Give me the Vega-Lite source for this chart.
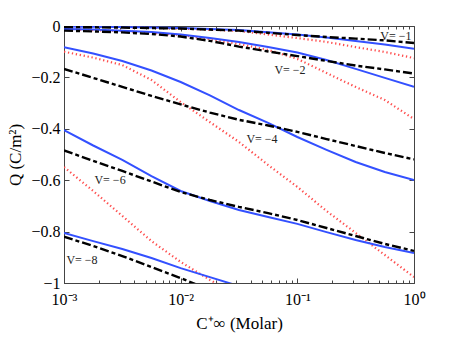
{
  "$schema": "https://vega.github.io/schema/vega-lite/v6.json",
  "autosize": "none",
  "width": 350,
  "height": 257,
  "padding": {"left": 64, "top": 26, "right": 43, "bottom": 60},
  "background": "white",
  "config": {
    "view": {"stroke": "#444", "strokeWidth": 1},
    "font": "Liberation Serif",
    "axis": {"grid": false, "domainColor": "#444", "tickColor": "#444", "labelColor": "#000", "titleColor": "#000", "labelFont": "Liberation Serif", "titleFont": "Liberation Serif", "labelFontSize": 16, "titleFontSize": 17, "titleFontWeight": "normal"}
  },
  "data": {"values": [
    {"v": -1, "k": "blue", "x": 0.001, "y": -0.002},
    {"v": -1, "k": "blue", "x": 0.00316, "y": -0.004},
    {"v": -1, "k": "blue", "x": 0.01, "y": -0.008},
    {"v": -1, "k": "blue", "x": 0.0316, "y": -0.016},
    {"v": -1, "k": "blue", "x": 0.1, "y": -0.033},
    {"v": -1, "k": "blue", "x": 0.178, "y": -0.045},
    {"v": -1, "k": "blue", "x": 0.316, "y": -0.058},
    {"v": -1, "k": "blue", "x": 0.562, "y": -0.072},
    {"v": -1, "k": "blue", "x": 1, "y": -0.089},
    {"v": -1, "k": "black", "x": 0.001, "y": -0.004},
    {"v": -1, "k": "black", "x": 0.00316, "y": -0.006},
    {"v": -1, "k": "black", "x": 0.01, "y": -0.01},
    {"v": -1, "k": "black", "x": 0.0316, "y": -0.018},
    {"v": -1, "k": "black", "x": 0.1, "y": -0.035},
    {"v": -1, "k": "black", "x": 0.178, "y": -0.043},
    {"v": -1, "k": "black", "x": 0.316, "y": -0.049},
    {"v": -1, "k": "black", "x": 0.562, "y": -0.056},
    {"v": -1, "k": "black", "x": 1, "y": -0.066},
    {"v": -1, "k": "red", "x": 0.001, "y": -0.002},
    {"v": -1, "k": "red", "x": 0.00316, "y": -0.004},
    {"v": -1, "k": "red", "x": 0.01, "y": -0.01},
    {"v": -1, "k": "red", "x": 0.0316, "y": -0.019},
    {"v": -1, "k": "red", "x": 0.1, "y": -0.047},
    {"v": -1, "k": "red", "x": 0.178, "y": -0.062},
    {"v": -1, "k": "red", "x": 0.316, "y": -0.082},
    {"v": -1, "k": "red", "x": 0.562, "y": -0.101},
    {"v": -1, "k": "red", "x": 1, "y": -0.125},

    {"v": -2, "k": "blue", "x": 0.001, "y": -0.012},
    {"v": -2, "k": "blue", "x": 0.00178, "y": -0.014},
    {"v": -2, "k": "blue", "x": 0.00316, "y": -0.018},
    {"v": -2, "k": "blue", "x": 0.00562, "y": -0.023},
    {"v": -2, "k": "blue", "x": 0.01, "y": -0.033},
    {"v": -2, "k": "blue", "x": 0.0178, "y": -0.047},
    {"v": -2, "k": "blue", "x": 0.0316, "y": -0.062},
    {"v": -2, "k": "blue", "x": 0.0562, "y": -0.082},
    {"v": -2, "k": "blue", "x": 0.1, "y": -0.103},
    {"v": -2, "k": "blue", "x": 0.178, "y": -0.132},
    {"v": -2, "k": "blue", "x": 0.316, "y": -0.167},
    {"v": -2, "k": "blue", "x": 0.562, "y": -0.202},
    {"v": -2, "k": "blue", "x": 1, "y": -0.237},
    {"v": -2, "k": "black", "x": 0.001, "y": -0.018},
    {"v": -2, "k": "black", "x": 0.00178, "y": -0.021},
    {"v": -2, "k": "black", "x": 0.00316, "y": -0.025},
    {"v": -2, "k": "black", "x": 0.00562, "y": -0.031},
    {"v": -2, "k": "black", "x": 0.01, "y": -0.041},
    {"v": -2, "k": "black", "x": 0.0178, "y": -0.058},
    {"v": -2, "k": "black", "x": 0.0316, "y": -0.08},
    {"v": -2, "k": "black", "x": 0.0562, "y": -0.099},
    {"v": -2, "k": "black", "x": 0.1, "y": -0.117},
    {"v": -2, "k": "black", "x": 0.178, "y": -0.136},
    {"v": -2, "k": "black", "x": 0.316, "y": -0.154},
    {"v": -2, "k": "black", "x": 0.562, "y": -0.169},
    {"v": -2, "k": "black", "x": 1, "y": -0.185},
    {"v": -2, "k": "red", "x": 0.001, "y": -0.012},
    {"v": -2, "k": "red", "x": 0.00178, "y": -0.016},
    {"v": -2, "k": "red", "x": 0.00316, "y": -0.019},
    {"v": -2, "k": "red", "x": 0.00562, "y": -0.027},
    {"v": -2, "k": "red", "x": 0.01, "y": -0.035},
    {"v": -2, "k": "red", "x": 0.0178, "y": -0.051},
    {"v": -2, "k": "red", "x": 0.0316, "y": -0.07},
    {"v": -2, "k": "red", "x": 0.0562, "y": -0.093},
    {"v": -2, "k": "red", "x": 0.1, "y": -0.128},
    {"v": -2, "k": "red", "x": 0.178, "y": -0.183},
    {"v": -2, "k": "red", "x": 0.316, "y": -0.237},
    {"v": -2, "k": "red", "x": 0.562, "y": -0.288},
    {"v": -2, "k": "red", "x": 1, "y": -0.362},

    {"v": -4, "k": "blue", "x": 0.001, "y": -0.083},
    {"v": -4, "k": "blue", "x": 0.00178, "y": -0.107},
    {"v": -4, "k": "blue", "x": 0.00316, "y": -0.136},
    {"v": -4, "k": "blue", "x": 0.00562, "y": -0.173},
    {"v": -4, "k": "blue", "x": 0.01, "y": -0.218},
    {"v": -4, "k": "blue", "x": 0.0178, "y": -0.27},
    {"v": -4, "k": "blue", "x": 0.0316, "y": -0.327},
    {"v": -4, "k": "blue", "x": 0.0562, "y": -0.377},
    {"v": -4, "k": "blue", "x": 0.1, "y": -0.432},
    {"v": -4, "k": "blue", "x": 0.178, "y": -0.482},
    {"v": -4, "k": "blue", "x": 0.316, "y": -0.529},
    {"v": -4, "k": "blue", "x": 0.562, "y": -0.568},
    {"v": -4, "k": "blue", "x": 1, "y": -0.599},
    {"v": -4, "k": "black", "x": 0.001, "y": -0.167},
    {"v": -4, "k": "black", "x": 0.00178, "y": -0.202},
    {"v": -4, "k": "black", "x": 0.00316, "y": -0.237},
    {"v": -4, "k": "black", "x": 0.00562, "y": -0.272},
    {"v": -4, "k": "black", "x": 0.01, "y": -0.305},
    {"v": -4, "k": "black", "x": 0.0178, "y": -0.337},
    {"v": -4, "k": "black", "x": 0.0316, "y": -0.365},
    {"v": -4, "k": "black", "x": 0.0562, "y": -0.387},
    {"v": -4, "k": "black", "x": 0.1, "y": -0.412},
    {"v": -4, "k": "black", "x": 0.178, "y": -0.44},
    {"v": -4, "k": "black", "x": 0.316, "y": -0.467},
    {"v": -4, "k": "black", "x": 0.562, "y": -0.494},
    {"v": -4, "k": "black", "x": 1, "y": -0.519},
    {"v": -4, "k": "red", "x": 0.001, "y": -0.1},
    {"v": -4, "k": "red", "x": 0.00178, "y": -0.123},
    {"v": -4, "k": "red", "x": 0.00316, "y": -0.152},
    {"v": -4, "k": "red", "x": 0.00562, "y": -0.21},
    {"v": -4, "k": "red", "x": 0.01, "y": -0.296},
    {"v": -4, "k": "red", "x": 0.0178, "y": -0.374},
    {"v": -4, "k": "red", "x": 0.0316, "y": -0.451},
    {"v": -4, "k": "red", "x": 0.0562, "y": -0.541},
    {"v": -4, "k": "red", "x": 0.1, "y": -0.626},
    {"v": -4, "k": "red", "x": 0.178, "y": -0.72},
    {"v": -4, "k": "red", "x": 0.316, "y": -0.805},
    {"v": -4, "k": "red", "x": 0.562, "y": -0.891},
    {"v": -4, "k": "red", "x": 1, "y": -0.977},

    {"v": -6, "k": "blue", "x": 0.001, "y": -0.405},
    {"v": -6, "k": "blue", "x": 0.00178, "y": -0.465},
    {"v": -6, "k": "blue", "x": 0.00316, "y": -0.521},
    {"v": -6, "k": "blue", "x": 0.00562, "y": -0.584},
    {"v": -6, "k": "blue", "x": 0.01, "y": -0.642},
    {"v": -6, "k": "blue", "x": 0.0178, "y": -0.681},
    {"v": -6, "k": "blue", "x": 0.0316, "y": -0.716},
    {"v": -6, "k": "blue", "x": 0.0562, "y": -0.743},
    {"v": -6, "k": "blue", "x": 0.1, "y": -0.77},
    {"v": -6, "k": "blue", "x": 0.178, "y": -0.802},
    {"v": -6, "k": "blue", "x": 0.316, "y": -0.833},
    {"v": -6, "k": "blue", "x": 0.562, "y": -0.86},
    {"v": -6, "k": "blue", "x": 1, "y": -0.883},
    {"v": -6, "k": "black", "x": 0.001, "y": -0.484},
    {"v": -6, "k": "black", "x": 0.00178, "y": -0.525},
    {"v": -6, "k": "black", "x": 0.00316, "y": -0.564},
    {"v": -6, "k": "black", "x": 0.00562, "y": -0.605},
    {"v": -6, "k": "black", "x": 0.01, "y": -0.646},
    {"v": -6, "k": "black", "x": 0.0178, "y": -0.677},
    {"v": -6, "k": "black", "x": 0.0316, "y": -0.704},
    {"v": -6, "k": "black", "x": 0.0562, "y": -0.728},
    {"v": -6, "k": "black", "x": 0.1, "y": -0.755},
    {"v": -6, "k": "black", "x": 0.178, "y": -0.786},
    {"v": -6, "k": "black", "x": 0.316, "y": -0.817},
    {"v": -6, "k": "black", "x": 0.562, "y": -0.848},
    {"v": -6, "k": "black", "x": 1, "y": -0.875},
    {"v": -6, "k": "red", "x": 0.001, "y": -0.549},
    {"v": -6, "k": "red", "x": 0.00178, "y": -0.642},
    {"v": -6, "k": "red", "x": 0.00316, "y": -0.739},
    {"v": -6, "k": "red", "x": 0.00562, "y": -0.837},
    {"v": -6, "k": "red", "x": 0.01, "y": -0.918},
    {"v": -6, "k": "red", "x": 0.0178, "y": -0.988},
    {"v": -6, "k": "red", "x": 0.0316, "y": -1.051},

    {"v": -8, "k": "blue", "x": 0.001, "y": -0.805},
    {"v": -8, "k": "blue", "x": 0.00178, "y": -0.837},
    {"v": -8, "k": "blue", "x": 0.00316, "y": -0.868},
    {"v": -8, "k": "blue", "x": 0.00562, "y": -0.903},
    {"v": -8, "k": "blue", "x": 0.01, "y": -0.942},
    {"v": -8, "k": "blue", "x": 0.0178, "y": -0.977},
    {"v": -8, "k": "blue", "x": 0.0316, "y": -1.012},
    {"v": -8, "k": "black", "x": 0.001, "y": -0.82},
    {"v": -8, "k": "black", "x": 0.00178, "y": -0.856},
    {"v": -8, "k": "black", "x": 0.00316, "y": -0.895},
    {"v": -8, "k": "black", "x": 0.00562, "y": -0.938},
    {"v": -8, "k": "black", "x": 0.01, "y": -0.981},
    {"v": -8, "k": "black", "x": 0.0178, "y": -1.027}
  ]},
  "resolve": {"axis": {"x": "independent", "y": "independent"}},
  "layer": [
    {
      "transform": [{"filter": "datum.k == 'red'"}],
      "mark": {"type": "line", "clip": true, "color": "#ff4d4d", "strokeWidth": 2.2, "strokeDash": [1.3, 2.7], "strokeCap": "butt"},
      "encoding": {
        "x": {"field": "x", "type": "quantitative", "scale": {"type": "log", "domain": [0.001, 1], "nice": false},
          "axis": {"orient": "bottom", "title": "C⁺∞ (Molar)", "titlePadding": 6,
            "values": [0.001, 0.002, 0.003, 0.004, 0.005, 0.006, 0.007, 0.008, 0.009, 0.01, 0.02, 0.03, 0.04, 0.05, 0.06, 0.07, 0.08, 0.09, 0.1, 0.2, 0.3, 0.4, 0.5, 0.6, 0.7, 0.8, 0.9, 1],
            "labelExpr": "datum.value == 0.001 ? '10⁻³' : datum.value == 0.01 ? '10⁻²' : datum.value == 0.1 ? '10⁻¹' : datum.value == 1 ? '10⁰' : ''",
            "labelOverlap": false, "labelFlush": false, "labelBound": false,
            "tickSize": {"condition": {"test": "datum.value == 0.001 || datum.value == 0.01 || datum.value == 0.1 || datum.value == 1", "value": -5}, "value": -3},
            "labelPadding": 13}},
        "y": {"field": "y", "type": "quantitative", "scale": {"domain": [-1, 0], "nice": false, "zero": false},
          "axis": {"orient": "left", "title": "Q (C/m²)", "values": [-1, -0.8, -0.6, -0.4, -0.2, 0], "format": ".1~f", "tickSize": -5, "labelPadding": 9, "titlePadding": 6}},
        "detail": {"field": "v", "type": "nominal"}
      }
    },
    {
      "transform": [{"filter": "datum.k == 'blue'"}],
      "mark": {"type": "line", "clip": true, "color": "#3350ff", "strokeWidth": 2},
      "encoding": {
        "x": {"field": "x", "type": "quantitative", "axis": null},
        "y": {"field": "y", "type": "quantitative", "axis": null},
        "detail": {"field": "v", "type": "nominal"}
      }
    },
    {
      "transform": [{"filter": "datum.k == 'black'"}],
      "mark": {"type": "line", "clip": true, "color": "#000000", "strokeWidth": 2.4, "strokeDash": [9, 3, 4, 3]},
      "encoding": {
        "x": {"field": "x", "type": "quantitative",
          "axis": {"orient": "top", "title": null, "labels": false, "domain": false,
            "values": [0.001, 0.002, 0.003, 0.004, 0.005, 0.006, 0.007, 0.008, 0.009, 0.01, 0.02, 0.03, 0.04, 0.05, 0.06, 0.07, 0.08, 0.09, 0.1, 0.2, 0.3, 0.4, 0.5, 0.6, 0.7, 0.8, 0.9, 1],
            "tickSize": {"condition": {"test": "datum.value == 0.001 || datum.value == 0.01 || datum.value == 0.1 || datum.value == 1", "value": -5}, "value": -3}}},
        "y": {"field": "y", "type": "quantitative",
          "axis": {"orient": "right", "title": null, "labels": false, "domain": false, "values": [-1, -0.8, -0.6, -0.4, -0.2, 0], "tickSize": -5}},
        "detail": {"field": "v", "type": "nominal"}
      }
    },
    {
      "data": {"values": [
        {"t": "V= −1", "x": 0.7, "y": -0.037},
        {"t": "V= −2", "x": 0.0865, "y": -0.171},
        {"t": "V= −4", "x": 0.0498, "y": -0.44},
        {"t": "V= −6", "x": 0.00248, "y": -0.599},
        {"t": "V= −8", "x": 0.001426, "y": -0.91}
      ]},
      "mark": {"type": "text", "font": "Liberation Serif", "fontSize": 12, "color": "#222", "align": "center", "baseline": "middle"},
      "encoding": {
        "x": {"field": "x", "type": "quantitative", "axis": null},
        "y": {"field": "y", "type": "quantitative", "axis": null},
        "text": {"field": "t"}
      }
    }
  ]
}
